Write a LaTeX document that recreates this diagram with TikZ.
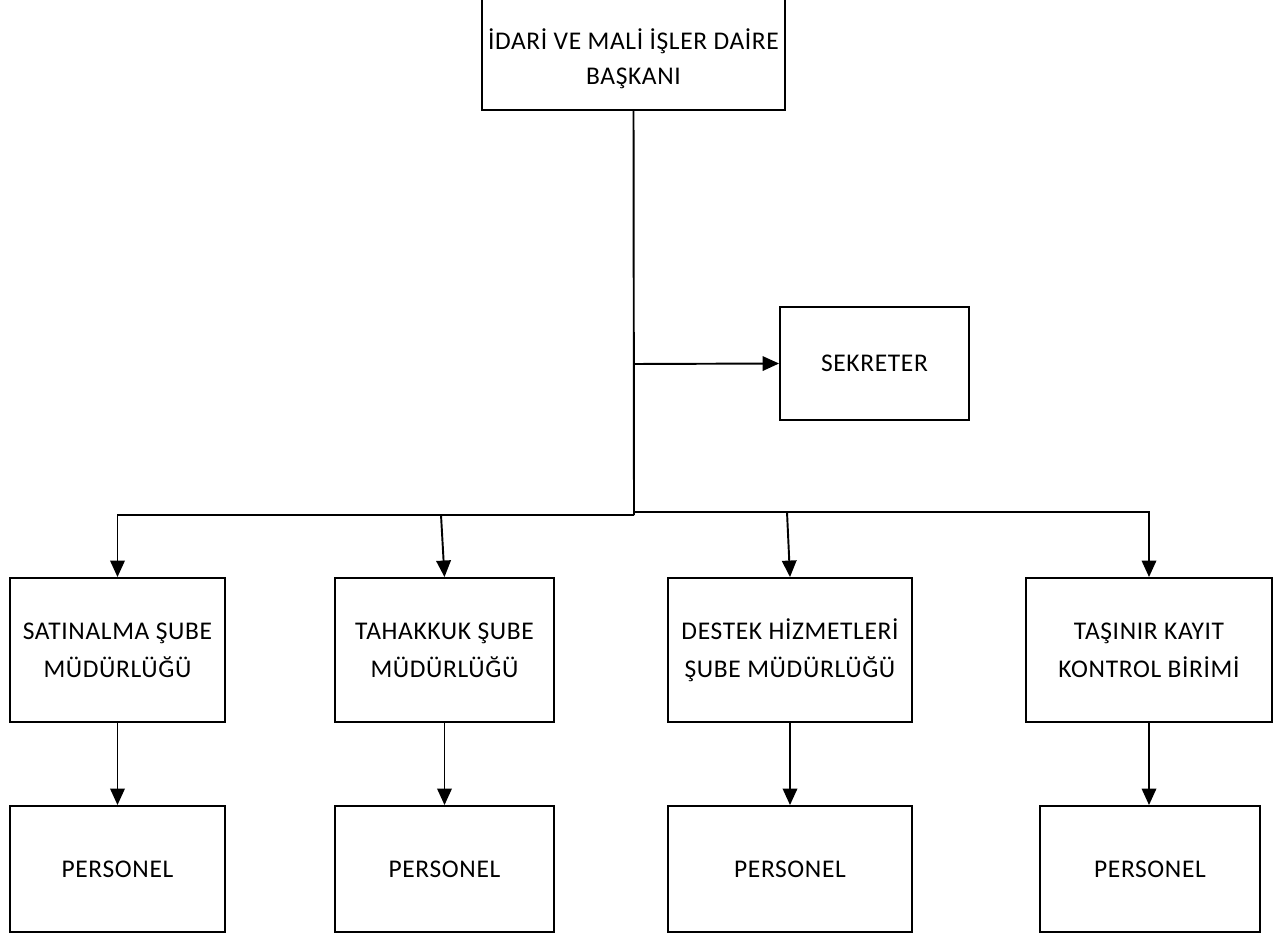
\documentclass[tikz,border=0pt]{standalone}
\usepackage{fontspec}
\setmainfont{Carlito}[LetterSpace=2.5]
\usetikzlibrary{shapes,arrows.meta}

\begin{document}
\begin{tikzpicture}[x=0.02cm, y=-0.02cm, line width=1.1pt,
    box/.style={draw, rectangle, align=center, inner sep=0pt,
        font=\fontsize{14.5}{20}\selectfont},
    unit/.style={box, minimum height=2.88cm, font=\fontsize{14.5}{21.5}\selectfont},
    arr/.style={-{Triangle[length=0.33cm,width=0.29cm]}}]
\useasboundingbox (0,0) rectangle (1277,935);
\node[box, minimum width=6.06cm, minimum height=2.24cm] (daire) at (633.5,54) {\rule{0pt}{0.62cm}İDARİ VE MALİ İŞLER DAİRE\\BAŞKANI};
\node[box, minimum width=3.78cm, minimum height=2.26cm] (sekreter) at (874.5,363.5) {SEKRETER};
\node[unit, minimum width=4.3cm] (satinalma) at (117.5,650) {SATINALMA ŞUBE\\MÜDÜRLÜĞÜ};
\node[unit, minimum width=4.38cm] (tahakkuk) at (444.5,650) {TAHAKKUK ŞUBE\\MÜDÜRLÜĞÜ};
\node[unit, minimum width=4.88cm] (destek) at (790,650) {DESTEK HİZMETLERİ\\ŞUBE MÜDÜRLÜĞÜ};
\node[unit, minimum width=4.92cm] (tasinir) at (1149,650) {TAŞINIR KAYIT\\KONTROL BİRİMİ};
\foreach \name/\x/\w in {pers1/117.5/4.3, pers2/444.5/4.38, pers3/790/4.88, pers4/1150/4.4} {
    \node[box, minimum width=\w cm, minimum height=2.52cm] (\name) at (\x,869) {PERSONEL};
}
\coordinate (trunk) at (634,515);
\coordinate (trunkr) at (634,512);
\coordinate (sek) at (634,364);
\coordinate (tah) at (441,515);
\coordinate (des) at (787,512);
\draw (daire.south) -- (trunk) -- (trunkr);
\draw[arr] (sek) -- (sekreter.west);
\draw[arr] (trunk) -| (satinalma.north);
\draw[arr] (trunkr) -| (tasinir.north);
\draw[arr] (tah) -- (tahakkuk.north);
\draw[arr] (des) -- (destek.north);
\foreach \a/\b in {satinalma/pers1, tahakkuk/pers2, destek/pers3, tasinir/pers4} {
    \draw[arr] (\a.south) -- (\a.south |- \b.north);
}
\end{tikzpicture}
\end{document}
